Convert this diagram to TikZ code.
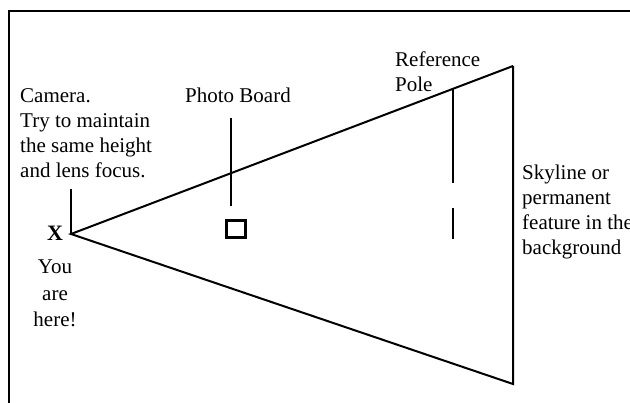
\documentclass[tikz,border=0pt]{standalone}
\usepackage{fontspec}
\setmainfont{Liberation Serif}
\begin{document}
\begin{tikzpicture}[x=1pt,y=-1pt,
  ln/.style={line width=2pt, black},
  lbl/.style={inner sep=0pt, font=\fontsize{21}{25}\selectfont, align=left, anchor=north west},
  lblc/.style={inner sep=0pt, font=\fontsize{21}{26.5}\selectfont, align=center, anchor=north}]
\useasboundingbox (0,0) rectangle (630,403);
% frame
\draw[line width=2.2pt] (9,403) -- (9,11) -- (630,11);
% perspective triangle
\coordinate (apex) at (71,234);
\coordinate (tr) at (513,66);
\coordinate (br) at (513,384);
\coordinate (camtop) at (71,189);
\draw[ln, line join=miter] (tr) -- (apex) -- (br) -- (tr);
\draw[ln] (apex) -- (camtop);
% photo board
\coordinate (pbtop) at (231,118);
\coordinate (pbbot) at (231,206);
\draw[ln] (pbtop) -- (pbbot);
\node[draw, line width=2.6pt, minimum width=19pt, minimum height=17pt, inner sep=0pt] (board) at (236,229) {};
% reference pole
\coordinate (rptop) at (453,88);
\coordinate (rpbot) at (453,183);
\coordinate (rp2top) at (453,208);
\coordinate (rp2bot) at (453,239);
\draw[ln] (rptop) -- (rpbot);
\draw[ln, line width=2.6pt] (rp2top) -- (rp2bot);
% labels
\node[lbl] (cam) at (20,88) {Camera.\\Try to maintain\\the same height\\and lens focus.};
\node[inner sep=0pt, font=\fontsize{22}{25}\selectfont\bfseries] (x) at (55,233) {X};
\node[lblc] (here) at (55,260) {You\\are\\here!};
\node[lbl] (pb) at (185,88) {Photo Board};
\node[lbl] (ref) at (395,52) {Reference\\Pole};
\node[lbl] (sky) at (522,165) {Skyline or\\permanent\\feature in the\\background};
\end{tikzpicture}
\end{document}
